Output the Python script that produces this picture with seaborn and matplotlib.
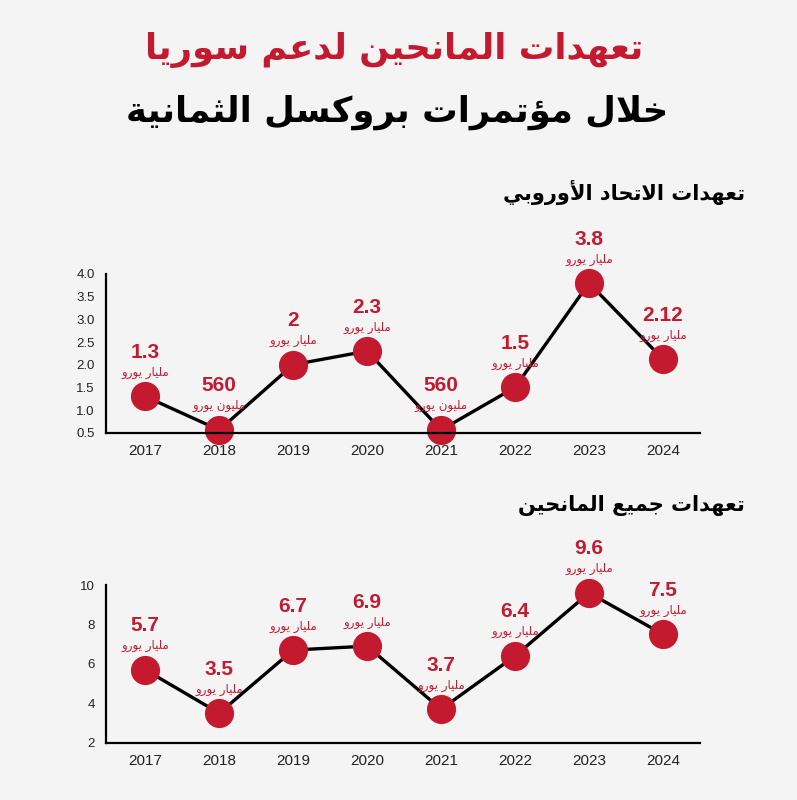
import matplotlib
matplotlib.use('Agg')
import matplotlib.pyplot as plt
import seaborn as sns
import pandas as pd

# Data
years = ['2017', '2018', '2019', '2020', '2021', '2022', '2023', '2024']
eu_values = [1.3, 0.56, 2.0, 2.3, 0.56, 1.5, 3.8, 2.12]
eu_labels = ['1.3', '560', '2', '2.3', '560', '1.5', '3.8', '2.12']
eu_units = ['مليار يورو', 'مليون يورو', 'مليار يورو', 'مليار يورو',
            'مليون يورو', 'مليار يورو', 'مليار يورو', 'مليار يورو']
all_values = [5.7, 3.5, 6.7, 6.9, 3.7, 6.4, 9.6, 7.5]
all_labels = ['5.7', '3.5', '6.7', '6.9', '3.7', '6.4', '9.6', '7.5']
all_units = ['مليار يورو'] * 8
eu_yticks = [0.5, 1.0, 1.5, 2.0, 2.5, 3.0, 3.5, 4.0]
eu_yticklabels = ['0.5', '1.0', '1.5', '2.0', '2.5', '3.0', '3.5', '4.0']
all_yticks = [2, 4, 6, 8, 10]
all_yticklabels = ['2', '4', '6', '8', '10']

title_1 = 'تعهدات المانحين لدعم سوريا'
title_2 = 'خلال مؤتمرات بروكسل الثمانية'
eu_heading = 'تعهدات الاتحاد الأوروبي'
all_heading = 'تعهدات جميع المانحين'

RED = '#c41a30'
BG = '#f4f4f4'
NUM_FONT = ['Liberation Sans', 'DejaVu Sans']

# minimal arabic shaping (matplotlib has no complex text layout)
# letter: (isolated, final, initial, medial) ; None = right-joining only
FORMS = {
    'ا': (0xFE8D, 0xFE8E, None, None), 'أ': (0xFE83, 0xFE84, None, None),
    'ؤ': (0xFE85, 0xFE86, None, None), 'ب': (0xFE8F, 0xFE90, 0xFE91, 0xFE92),
    'ة': (0xFE93, 0xFE94, None, None), 'ت': (0xFE95, 0xFE96, 0xFE97, 0xFE98),
    'ث': (0xFE99, 0xFE9A, 0xFE9B, 0xFE9C), 'ج': (0xFE9D, 0xFE9E, 0xFE9F, 0xFEA0),
    'ح': (0xFEA1, 0xFEA2, 0xFEA3, 0xFEA4), 'خ': (0xFEA5, 0xFEA6, 0xFEA7, 0xFEA8),
    'د': (0xFEA9, 0xFEAA, None, None), 'ر': (0xFEAD, 0xFEAE, None, None),
    'س': (0xFEB1, 0xFEB2, 0xFEB3, 0xFEB4), 'ع': (0xFEC9, 0xFECA, 0xFECB, 0xFECC),
    'ك': (0xFED9, 0xFEDA, 0xFEDB, 0xFEDC), 'ل': (0xFEDD, 0xFEDE, 0xFEDF, 0xFEE0),
    'م': (0xFEE1, 0xFEE2, 0xFEE3, 0xFEE4), 'ن': (0xFEE5, 0xFEE6, 0xFEE7, 0xFEE8),
    'ه': (0xFEE9, 0xFEEA, 0xFEEB, 0xFEEC), 'و': (0xFEED, 0xFEEE, None, None),
    'ي': (0xFEF1, 0xFEF2, 0xFEF3, 0xFEF4),
}
LAM_ALEF = {'ا': (0xFEFB, 0xFEFC), 'أ': (0xFEF7, 0xFEF8)}


def shape(text):
    # merge lam + alef into one unit first
    units = []
    i = 0
    while i < len(text):
        c = text[i]
        if c == 'ل' and i + 1 < len(text) and text[i + 1] in LAM_ALEF:
            units.append(('LA', text[i + 1]))
            i += 2
        else:
            units.append(('C', c))
            i += 1

    def dual(u):
        return u[0] == 'C' and u[1] in FORMS and FORMS[u[1]][2] is not None

    def letter(u):
        return u[0] == 'LA' or u[1] in FORMS

    out = []
    for k, u in enumerate(units):
        prev_join = k > 0 and dual(units[k - 1]) and letter(u)
        if u[0] == 'LA':
            iso, fin = LAM_ALEF[u[1]]
            out.append(chr(fin if prev_join else iso))
            continue
        c = u[1]
        if c not in FORMS:
            out.append(c)
            continue
        f = FORMS[c]
        next_join = dual(u) and k + 1 < len(units) and letter(units[k + 1])
        if prev_join and next_join:
            out.append(chr(f[3]))
        elif prev_join:
            out.append(chr(f[1]))
        elif next_join:
            out.append(chr(f[2]))
        else:
            out.append(chr(f[0]))
    return ''.join(out)[::-1]


sns.set_style('white')
plt.rcParams['font.family'] = ['DejaVu Sans']

fig = plt.figure(figsize=(7.97, 8), dpi=100, facecolor=BG)

fig.text(394 / 797, 1 - 50 / 800, shape(title_1), color=RED, fontsize=25.5,
         fontweight='bold', ha='center', va='center')
fig.text(397 / 797, 1 - 112 / 800, shape(title_2), color='black', fontsize=25.5,
         fontweight='bold', ha='center', va='center')


def draw_panel(rect, heading, heading_y, values, labels, units, yticks,
               yticklabels, ylim):
    ax = fig.add_axes(rect)
    ax.set_facecolor('none')
    df = pd.DataFrame({'x': range(len(years)), 'y': values})
    sns.lineplot(data=df, x='x', y='y', ax=ax, color='black', linewidth=2.4,
                 marker='o', markersize=21, markerfacecolor=RED,
                 markeredgewidth=0, clip_on=False)
    ax.set_xlim(-0.53, 7.5)
    ax.set_ylim(*ylim)
    ax.set_yticks(yticks)
    ax.set_yticklabels(yticklabels, family=NUM_FONT)
    ax.set_xticks([i + 0.5 for i in range(len(years))])
    ax.set_xticklabels([])
    ax.set_xticks(range(len(years)), minor=True)
    ax.set_xticklabels(years, minor=True, family=NUM_FONT)
    ax.tick_params(axis='y', direction='in', length=11, width=1.6, pad=8,
                   labelsize=9.5, colors='#222222')
    ax.tick_params(axis='x', which='major', direction='in', length=4, width=1.4)
    ax.tick_params(axis='x', which='minor', length=0, pad=8, labelsize=11,
                   labelcolor='#222222')
    ax.set_xlabel('')
    ax.set_ylabel('')
    for side in ['top', 'right']:
        ax.spines[side].set_visible(False)
    for side in ['left', 'bottom']:
        ax.spines[side].set_linewidth(1.6)
        ax.spines[side].set_color('black')
    for i, (v, lab, un) in enumerate(zip(values, labels, units)):
        ax.annotate(lab, (i, v), xytext=(0, 44), textcoords='offset pixels',
                    ha='center', va='center', fontsize=15, fontweight='bold',
                    family=NUM_FONT, color=RED, annotation_clip=False)
        ax.annotate(shape(un), (i, v), xytext=(0, 24), textcoords='offset pixels',
                    ha='center', va='center', fontsize=8.5, color=RED,
                    annotation_clip=False)
    fig.text(745 / 797, 1 - heading_y / 800, shape(heading), fontsize=15,
             fontweight='bold', ha='right', va='center', color='black')
    return ax


draw_panel([106 / 797, 1 - 432.7 / 800, 594 / 797, 158.7 / 800],
           eu_heading, 192, eu_values, eu_labels, eu_units, eu_yticks,
           eu_yticklabels, (0.5, 4.0))
draw_panel([106 / 797, 1 - 742.7 / 800, 594 / 797, 157.7 / 800],
           all_heading, 506, all_values, all_labels, all_units, all_yticks,
           all_yticklabels, (2, 10))

fig.savefig('out.png', dpi=100, facecolor=BG)
